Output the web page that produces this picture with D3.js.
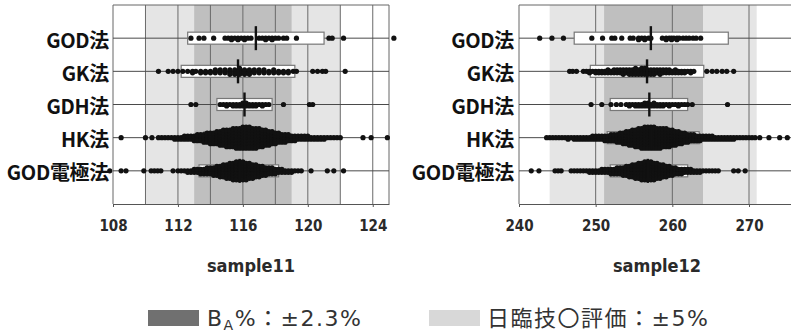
<!DOCTYPE html>
<html>
<head>
<meta charset="utf-8">
<script src="https://cdn.jsdelivr.net/npm/d3@7/dist/d3.min.js"></script>
<style>
  body { margin: 0; background: #fff; }
  svg { display: block; }
</style>
</head>
<body>
<div id="chart"></div>
<script>
// Dot plots with box (Q1-Q3) and median, two control samples

const width = 791, height = 332;

const methods = ["GOD法", "GK法", "GDH法", "HK法", "GOD電極法"];

// sample11 : box and bands
const s11Q1  = [112.6, 112.2, 114.4, 113.6, 113.3];
const s11Q3  = [121.0, 119.2, 117.8, 118.2, 118.2];
const s11Med = [116.8, 115.7, 116.1, 116.1, 115.8];
const s11Dark  = [113.0, 119.0];
const s11Light = [110.0, 122.0];
const s11Grid  = [110, 112, 114, 116, 118, 120, 122, 124];
const s11Ticks = [108, 112, 116, 120, 124];

// sample11 : dots as [value, number of dots stacked at that value]
const s11GOD = [[112.8,1],[113.3,1],[113.6,1],[114.2,1],[114.9,1],[115.1,1],[115.3,2],[115.5,1],[115.7,2],[115.9,1],[116.1,2],[116.3,1],[116.5,1],[117.0,1],[117.2,1],[117.4,2],[117.6,1],[117.8,2],[118.0,1],[118.2,1],[118.5,1],[118.7,1],[119.3,1],[121.3,1],[121.5,1],[122.2,1],[125.3,1]];
const s11GK = [[110.8,1],[111.4,1],[111.7,1],[112.0,1],[112.3,1],[112.6,1],[112.9,2],[113.1,1],[113.4,2],[113.7,2],[114.0,2],[114.3,3],[114.6,3],[114.9,3],[115.2,4],[115.5,4],[115.8,5],[116.1,4],[116.4,4],[116.7,3],[117.0,3],[117.3,3],[117.6,2],[117.9,3],[118.2,2],[118.5,2],[118.8,2],[119.1,1],[119.3,1],[120.3,1],[120.6,1],[120.9,1],[121.1,1],[122.3,1]];
const s11GDH = [[112.8,1],[113.1,1],[114.6,1],[114.8,1],[115.0,2],[115.2,1],[115.4,2],[115.6,2],[115.8,2],[116.0,3],[116.2,3],[116.4,2],[116.6,2],[116.8,2],[117.0,1],[117.2,2],[117.4,1],[117.6,1],[118.5,1],[120.1,1],[120.3,1]];
const s11HK = [[108.5,1],[110.0,1],[110.4,1],[110.8,1],[111.0,1],[111.2,1],[111.4,1],[111.6,1],[111.8,2],[112.0,2],[112.2,2],[112.4,3],[112.6,3],[112.8,3],[113.0,4],[113.2,5],[113.4,5],[113.6,6],[113.8,7],[114.0,8],[114.2,8],[114.4,9],[114.6,10],[114.8,11],[115.0,12],[115.2,12],[115.4,13],[115.6,14],[115.8,14],[116.0,15],[116.2,15],[116.4,15],[116.6,14],[116.8,14],[117.0,13],[117.2,12],[117.4,11],[117.6,10],[117.8,9],[118.0,8],[118.2,7],[118.4,6],[118.6,6],[118.8,5],[119.0,4],[119.2,4],[119.4,3],[119.6,3],[119.8,3],[120.0,3],[120.2,2],[120.4,2],[120.6,2],[120.8,2],[121.0,2],[121.2,1],[121.4,1],[121.6,1],[121.8,1],[122.0,1],[123.4,1],[123.9,1],[124.9,1]];
const s11GODE = [[107.8,1],[108.5,1],[108.8,1],[109.9,1],[110.35,1],[110.55,1],[110.75,1],[110.95,1],[111.7,1],[112.0,1],[112.2,1],[112.4,1],[112.6,2],[112.8,2],[113.0,3],[113.2,3],[113.4,4],[113.6,4],[113.8,5],[114.0,5],[114.2,6],[114.4,7],[114.6,8],[114.8,9],[115.0,10],[115.2,11],[115.4,12],[115.6,13],[115.8,13],[116.0,13],[116.2,12],[116.4,11],[116.6,10],[116.8,9],[117.0,8],[117.2,7],[117.4,6],[117.6,5],[117.8,5],[118.0,4],[118.2,3],[118.4,3],[118.6,2],[118.8,2],[119.0,2],[119.2,1],[119.4,1],[119.6,1],[120.2,1],[121.2,1],[121.6,1],[122.2,1]];

// sample12 : box and bands
const s12Q1  = [247.2, 249.3, 251.9, 251.5, 251.9];
const s12Q3  = [267.3, 264.1, 262.0, 263.5, 262.0];
const s12Med = [257.2, 256.7, 257.0, 257.3, 256.8];
const s12Dark  = [251.1, 264.0];
const s12Light = [244.0, 271.0];
const s12Grid  = [250, 260, 270];
const s12Ticks = [240, 250, 260, 270];

// sample12 : dots
const s12GOD = [[242.7,1],[244.3,1],[245.8,1],[249.5,1],[250.9,1],[252.1,1],[252.5,1],[253.4,1],[254.5,1],[254.9,1],[255.6,2],[256.0,1],[256.4,2],[256.9,1],[257.2,1],[258.7,1],[259.2,2],[259.6,1],[259.9,2],[260.2,1],[260.6,2],[260.9,1],[261.4,1],[261.8,1],[262.2,1],[262.7,1],[263.1,1],[263.7,1]];
const s12GK = [[246.6,1],[247.0,1],[247.5,1],[248.4,1],[248.8,1],[249.2,2],[249.6,1],[250.0,2],[250.4,2],[250.8,2],[251.2,2],[251.6,3],[252.0,2],[252.4,3],[252.8,3],[253.2,3],[253.6,4],[254.0,3],[254.4,4],[254.8,4],[255.2,5],[255.6,4],[256.0,5],[256.4,5],[256.8,4],[257.2,4],[257.6,4],[258.0,3],[258.4,4],[258.8,3],[259.2,3],[259.6,3],[260.0,2],[260.4,3],[260.8,2],[261.2,2],[261.6,2],[262.0,1],[262.4,2],[262.8,1],[264.5,1],[265.2,1],[265.8,1],[266.5,1],[267.1,1],[268.0,1]];
const s12GDH = [[249.4,1],[250.8,1],[252.0,1],[252.7,1],[253.3,1],[254.0,1],[254.4,2],[254.8,1],[255.2,2],[255.6,2],[256.0,2],[256.4,3],[256.8,3],[257.2,2],[257.6,3],[258.0,2],[258.4,2],[258.8,2],[259.2,1],[259.6,2],[260.0,1],[260.4,1],[260.8,2],[261.2,1],[261.6,1],[262.0,1],[262.6,1],[267.2,1]];
const s12HK = [[243.6,1],[244.0,1],[244.4,1],[244.8,1],[245.2,1],[245.6,1],[246.0,1],[246.4,2],[246.8,1],[247.2,2],[247.6,2],[248.0,2],[248.4,2],[248.8,2],[249.2,2],[249.6,3],[250.0,3],[250.4,3],[250.8,3],[251.2,4],[251.6,4],[252.0,5],[252.4,5],[252.8,6],[253.2,7],[253.6,8],[254.0,9],[254.4,10],[254.8,11],[255.2,12],[255.6,13],[256.0,14],[256.4,15],[256.8,15],[257.2,15],[257.6,15],[258.0,14],[258.4,14],[258.8,13],[259.2,13],[259.6,12],[260.0,11],[260.4,10],[260.8,9],[261.2,8],[261.6,7],[262.0,6],[262.4,5],[262.8,5],[263.2,4],[263.6,4],[264.0,3],[264.4,3],[264.8,3],[265.2,3],[265.6,2],[266.0,2],[266.4,2],[266.8,2],[267.2,2],[267.6,2],[268.0,2],[268.4,1],[268.8,1],[269.2,1],[269.6,1],[270.0,1],[270.4,1],[270.8,1],[271.4,1],[272.6,1],[274.0,1],[275.0,1]];
const s12GODE = [[241.6,1],[242.6,1],[244.7,1],[245.1,1],[245.5,1],[246.8,1],[247.2,1],[247.6,1],[248.0,1],[248.4,1],[248.8,1],[249.2,2],[249.6,2],[250.0,2],[250.4,2],[250.8,3],[251.2,3],[251.6,3],[252.0,4],[252.4,4],[252.8,5],[253.2,5],[253.6,6],[254.0,7],[254.4,8],[254.8,9],[255.2,10],[255.6,11],[256.0,12],[256.4,13],[256.8,13],[257.2,13],[257.6,12],[258.0,11],[258.4,10],[258.8,9],[259.2,8],[259.6,7],[260.0,6],[260.4,5],[260.8,4],[261.2,4],[261.6,3],[262.0,3],[262.4,3],[262.8,2],[263.2,2],[263.6,2],[264.0,1],[264.4,1],[264.8,1],[265.2,1],[265.6,1],[266.0,1],[268.0,1],[268.6,1],[269.5,1]];

const panels = [
  { title: "sample11", domain: [108, 125], range: [113, 389], labelX: 109,
    q1: s11Q1, q3: s11Q3, med: s11Med, dark: s11Dark, light: s11Light,
    grid: s11Grid, ticks: s11Ticks, dots: [s11GOD, s11GK, s11GDH, s11HK, s11GODE] },
  { title: "sample12", domain: [240, 276], range: [519, 795], labelX: 514,
    q1: s12Q1, q3: s12Q3, med: s12Med, dark: s12Dark, light: s12Light,
    grid: s12Grid, ticks: s12Ticks, dots: [s12GOD, s12GK, s12GDH, s12HK, s12GODE] }
];

const plotTop = 5, plotBottom = 204;
const darkBand = "#bfbfbf", lightBand = "#e5e5e5";

const svg = d3.select("#chart")
  .append("svg")
  .attr("width", width)
  .attr("height", height)
  .attr("viewBox", [0, 0, width, height]);

// rows: endpoints of the padded point scale sit on the plot border
const y = d3.scalePoint()
  .domain(methods)
  .range([plotTop, plotBottom])
  .padding(1);

const stackStep = 1.5, r = 2.6;

panels.forEach(p => {
  const x = d3.scaleLinear().domain(p.domain).range(p.range);
  const g = svg.append("g");

  // bands
  g.append("rect")
    .attr("x", x(p.light[0])).attr("y", plotTop)
    .attr("width", x(p.light[1]) - x(p.light[0])).attr("height", plotBottom - plotTop)
    .attr("fill", lightBand);
  g.append("rect")
    .attr("x", x(p.dark[0])).attr("y", plotTop)
    .attr("width", x(p.dark[1]) - x(p.dark[0])).attr("height", plotBottom - plotTop)
    .attr("fill", darkBand);

  // vertical grid
  g.selectAll(".grid")
    .data(p.grid)
    .join("line")
    .attr("x1", d => x(d)).attr("x2", d => x(d))
    .attr("y1", plotTop).attr("y2", plotBottom)
    .attr("stroke", "#6a6a6a").attr("stroke-width", 1);

  // frame (left, top, right)
  g.append("path")
    .attr("d", `M${p.range[0]},${plotBottom}V${plotTop}H${p.range[1]}V${plotBottom}`)
    .attr("fill", "none").attr("stroke", "#666").attr("stroke-width", 1);

  // row lines
  g.selectAll(".row")
    .data(methods)
    .join("line")
    .attr("x1", p.range[0]).attr("x2", p.range[1])
    .attr("y1", d => y(d)).attr("y2", d => y(d))
    .attr("stroke", "#4a4a4a").attr("stroke-width", 1);

  // boxes
  g.selectAll(".box")
    .data(methods)
    .join("rect")
    .attr("x", (d, i) => x(p.q1[i]))
    .attr("width", (d, i) => x(p.q3[i]) - x(p.q1[i]))
    .attr("y", d => y(d) - 6)
    .attr("height", 12)
    .attr("fill", "#fff")
    .attr("stroke", "#777")
    .attr("stroke-width", 1.2);

  // dots, stacked around the row line
  methods.forEach((m, i) => {
    const pts = [];
    p.dots[i].forEach(([v, n]) => {
      for (let k = 0; k < n; k++) {
        const off = (k % 2 ? 1 : -1) * Math.ceil(k / 2) * stackStep;
        pts.push({ v, off });
      }
    });
    g.append("g")
      .selectAll("circle")
      .data(pts)
      .join("circle")
      .attr("cx", d => x(d.v))
      .attr("cy", d => y(m) + d.off)
      .attr("r", r)
      .attr("fill", "#111");
  });

  // medians
  g.selectAll(".med")
    .data(methods)
    .join("line")
    .attr("x1", (d, i) => x(p.med[i])).attr("x2", (d, i) => x(p.med[i]))
    .attr("y1", d => y(d) - 12).attr("y2", d => y(d) + 12)
    .attr("stroke", "#111").attr("stroke-width", 2.4);

  // row labels
  g.selectAll(".lab")
    .data(methods)
    .join("text")
    .attr("x", p.labelX)
    .attr("y", d => y(d) + 1)
    .attr("text-anchor", "end")
    .attr("dominant-baseline", "central")
    .attr("font-family", "'Noto Sans CJK JP', 'Noto Sans', sans-serif")
    .attr("font-weight", 700)
    .attr("font-size", 20)
    .attr("letter-spacing", -0.3)
    .attr("fill", "#111")
    .text(d => d);

  // x axis
  const axis = g.append("g")
    .attr("transform", `translate(0,${plotBottom})`)
    .call(d3.axisBottom(x).tickValues(p.ticks).tickSize(3).tickSizeOuter(0).tickPadding(13));
  axis.select(".domain").attr("stroke", "#555");
  axis.selectAll(".tick line").attr("stroke", "#555");
  axis.selectAll("text")
    .attr("font-family", "'DejaVu Sans Condensed', 'DejaVu Sans', sans-serif")
    .attr("font-weight", 700)
    .attr("font-size", 15)
    .attr("fill", "#2a2a2a");

  g.append("text")
    .attr("x", (p.range[0] + p.range[1]) / 2)
    .attr("y", 265)
    .attr("text-anchor", "middle")
    .attr("dominant-baseline", "central")
    .attr("font-family", "'DejaVu Sans Condensed', 'DejaVu Sans', sans-serif")
    .attr("font-weight", 700)
    .attr("font-size", 18)
    .attr("fill", "#2a2a2a")
    .text(p.title);
});

// legend
const legend = svg.append("g")
  .attr("font-family", "'DejaVu Sans', 'Noto Sans CJK JP', sans-serif")
  .attr("fill", "#333")
  .attr("font-size", 22)
  .attr("letter-spacing", 1.5);
legend.append("rect").attr("x", 148).attr("y", 310).attr("width", 51).attr("height", 16).attr("fill", "#707070");
const t1 = legend.append("text").attr("x", 207).attr("y", 326);
t1.append("tspan").text("B");
t1.append("tspan").attr("font-size", 14).attr("dy", 4).text("A");
t1.append("tspan").attr("dy", -4).text("%：±2.3%");

legend.append("rect").attr("x", 429).attr("y", 310).attr("width", 51).attr("height", 16).attr("fill", "#d8d8d8");
legend.append("text").attr("x", 487).attr("y", 326)
  .text("日臨技〇評価：±5%");
</script>
</body>
</html>
